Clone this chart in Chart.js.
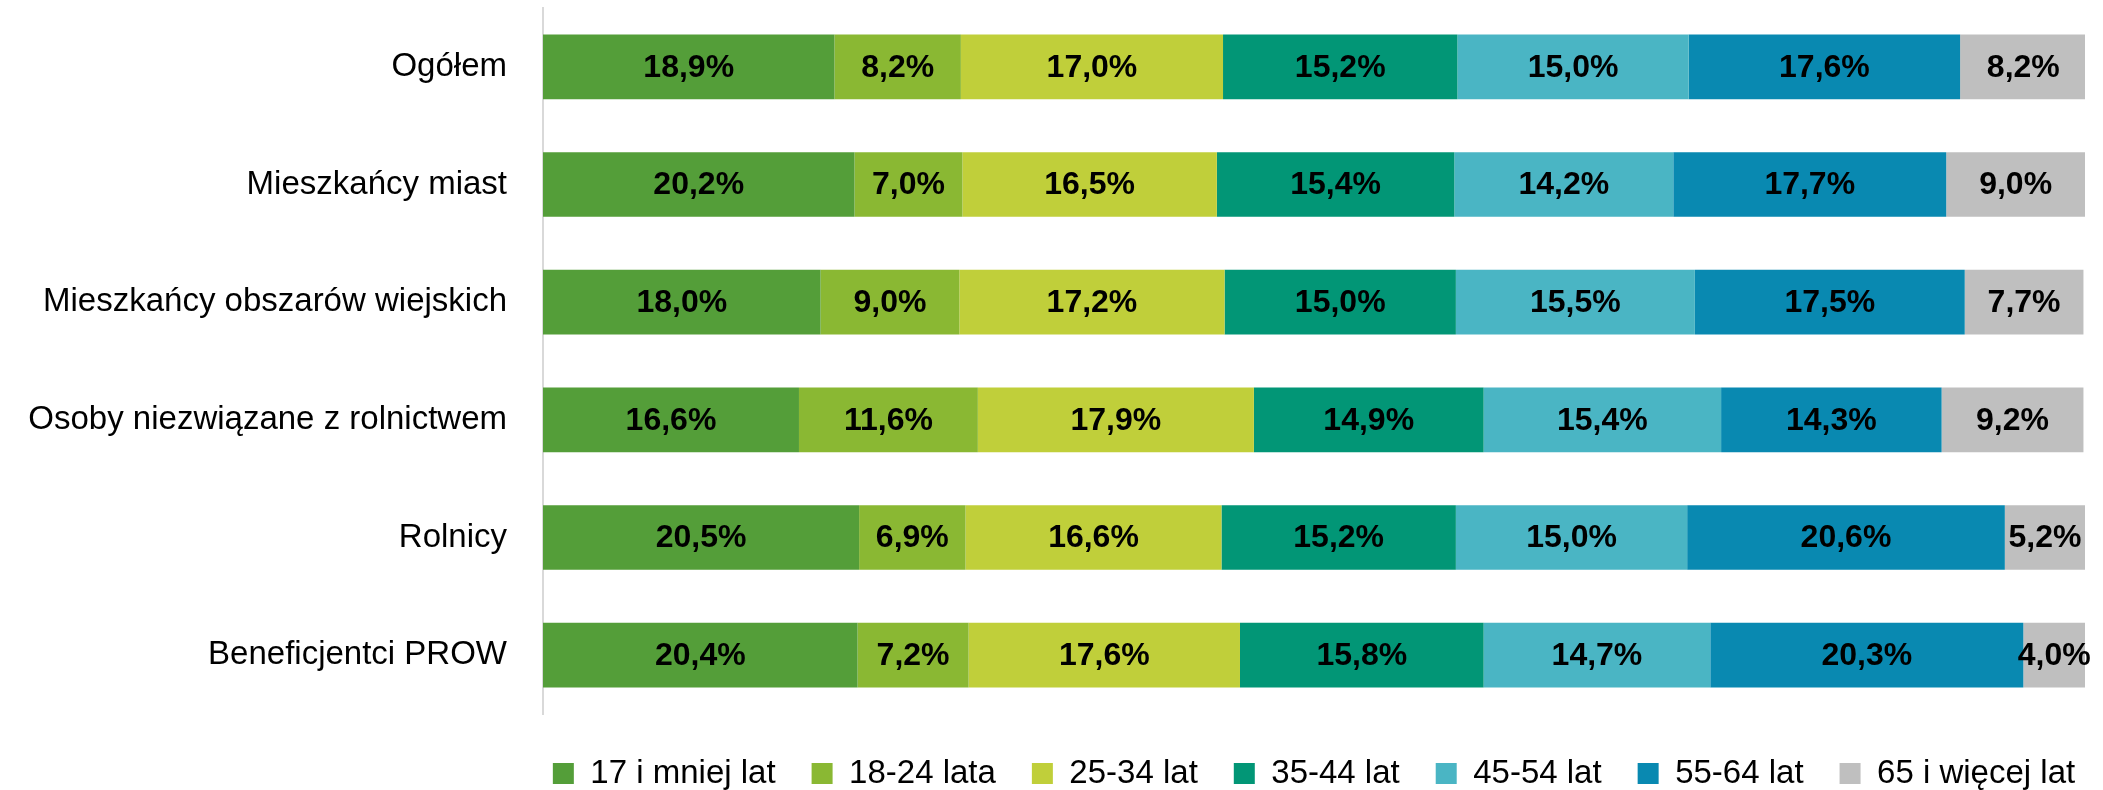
<!DOCTYPE html>
<html>
<head>
<meta charset="utf-8">
<script src="https://cdn.jsdelivr.net/npm/chart.js@4.4.1/dist/chart.umd.min.js"></script>
<style>
  body { margin: 0; background: #fff; }
  #wrap { width: 2103px; height: 790px; }
</style>
</head>
<body>
<div id="wrap"><canvas id="chart" width="2103" height="790"></canvas></div>
<script>
// kategorie (os Y)
var categories = [
    'Ogółem',
    'Mieszkańcy miast',
    'Mieszkańcy obszarów wiejskich',
    'Osoby niezwiązane z rolnictwem',
    'Rolnicy',
    'Beneficjentci PROW'
];

// grupy wiekowe (legenda)
var ageGroups = ['17 i mniej lat', '18-24 lata', '25-34 lat', '35-44 lat', '45-54 lat', '55-64 lat', '65 i więcej lat'];

// wartosci w % dla kazdej grupy wiekowej, w kolejnosci kategorii
var age17 = [18.9, 20.2, 18.0, 16.6, 20.5, 20.4];
var age18_24 = [8.2, 7.0, 9.0, 11.6, 6.9, 7.2];
var age25_34 = [17.0, 16.5, 17.2, 17.9, 16.6, 17.6];
var age35_44 = [15.2, 15.4, 15.0, 14.9, 15.2, 15.8];
var age45_54 = [15.0, 14.2, 15.5, 15.4, 15.0, 14.7];
var age55_64 = [17.6, 17.7, 17.5, 14.3, 20.6, 20.3];
var age65 = [8.2, 9.0, 7.7, 9.2, 5.2, 4.0];

var seriesValues = [age17, age18_24, age25_34, age35_44, age45_54, age55_64, age65];
var colors = ['#549E39', '#8AB833', '#C0CF3A', '#029676', '#4AB5C4', '#0989B1', '#BFBFBF'];

var fontFamily = "'Liberation Sans', Arial, sans-serif";

// etykiety z wartosciami na srodku segmentow
var valueLabels = {
    id: 'valueLabels',
    afterDatasetsDraw: function (chart) {
        var ctx = chart.ctx;
        ctx.save();
        ctx.font = 'bold 32px ' + fontFamily;
        ctx.fillStyle = '#000';
        ctx.textAlign = 'center';
        ctx.textBaseline = 'middle';
        chart.data.datasets.forEach(function (ds, i) {
            var meta = chart.getDatasetMeta(i);
            meta.data.forEach(function (bar, j) {
                var p = bar.getCenterPoint();
                var txt = ds.data[j].toFixed(1).replace('.', ',') + '%';
                ctx.fillText(txt, p.x, p.y + 1);
            });
        });
        ctx.restore();
    }
};

// legenda wysrodkowana pod obszarem wykresu (jak w Excelu)
var legendPlace = {
    id: 'legendPlace',
    afterLayout: function (chart) {
        var lg = chart.legend;
        var h = lg.height;
        var mid = (chart.chartArea.left + chart.chartArea.right) / 2;
        lg.left = mid - 1100;
        lg.right = mid + 1100;
        lg.top = 721;
        lg.bottom = lg.top + h;
    }
};

var datasets = ageGroups.map(function (name, i) {
    return {
        label: name,
        data: seriesValues[i],
        backgroundColor: colors[i],
        borderWidth: 0,
        categoryPercentage: 1.0,
        barPercentage: 0.55
    };
});

var chart = new Chart(document.getElementById('chart'), {
    type: 'bar',
    data: { labels: categories, datasets: datasets },
    plugins: [valueLabels, legendPlace],
    options: {
        indexAxis: 'y',
        responsive: false,
        animation: false,
        layout: { padding: { top: 8, right: 18, bottom: -3, left: 0 } },
        scales: {
            x: {
                stacked: true,
                min: 0,
                max: 100,
                display: false
            },
            y: {
                stacked: true,
                grid: { display: false, drawTicks: false },
                border: { display: true, color: '#D9D9D9', width: 2 },
                ticks: {
                    color: '#000',
                    padding: 36,
                    font: { family: fontFamily, size: 33 }
                },
                afterFit: function (scale) {
                    scale.width = 543;
                    scale.paddingTop = 0;
                    scale.paddingBottom = 0;
                }
            }
        },
        plugins: {
            tooltip: { enabled: false },
            legend: {
                position: 'bottom',
                labels: {
                    color: '#000',
                    boxWidth: 21,
                    boxHeight: 21,
                    padding: 36,
                    font: { family: fontFamily, size: 33 }
                }
            }
        }
    }
});
</script>
</body>
</html>
